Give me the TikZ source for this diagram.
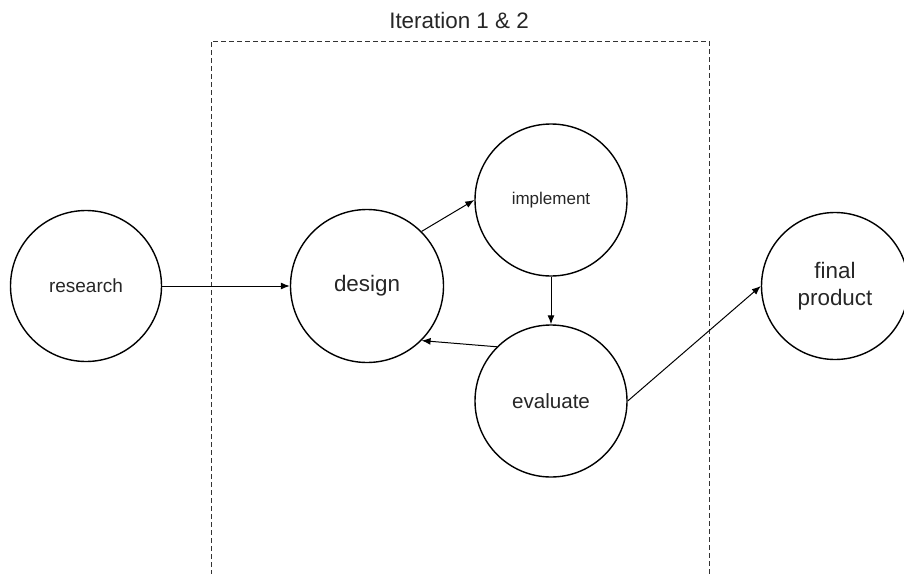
\documentclass[tikz,border=0pt]{standalone}
\usepackage{fontspec}
\setmainfont{Liberation Sans}
\usetikzlibrary{arrows.meta}

\tikzset{
  phase/.style={circle,draw,line width=0.7pt,minimum size=76pt,inner sep=0pt,align=center,text=black!85},
  flow/.style={-{Latex[length=4.5pt,width=3.5pt]},line width=0.5pt},
  frame/.style={dash pattern=on 2.5pt off 1.5pt,line width=0.5pt,black!80}
}

\begin{document}
\begin{tikzpicture}[x=0.5pt,y=-0.5pt]
        \useasboundingbox (0,0) rectangle (904,573);
        %\draw[help lines] (0,0) grid[step=50] (904,573);
        % iteration frame, open at the bottom
        \coordinate (frameBL) at (211,575);
        \coordinate (frameTR) at (709,41);
        \coordinate (frameBR) at (709,575);
        \draw[frame] (frameBL) |- (frameTR) -- (frameBR);
        \node[text=black!85,font=\fontsize{11.2}{13}\selectfont] (iterlabel) at (459,20) {Iteration 1 \& 2};

        \node[phase,minimum size=75.5pt,font=\fontsize{9.5}{11}\selectfont] (research) at (86,286) {research};
        \node[phase,minimum size=76.5pt,font=\fontsize{11.2}{13}\selectfont] (design) at (367,286) {design};
        \node[phase,font=\fontsize{8.5}{10}\selectfont] (implement) at (551,200) {implement};
        \node[phase,font=\fontsize{10.3}{12}\selectfont] (evaluate) at (551,401) {evaluate};
        \node[phase,minimum size=73.5pt,font=\fontsize{11.2}{13.5}\selectfont] (final) at (835,286) {final\\product};

        \draw[flow] (research) -- (design);
        \draw[flow] (design.45) -- (implement.west);
        \draw[flow] (implement) -- (evaluate);
        \draw[flow] (evaluate.135) -- (design.-45);
        \draw[flow] (evaluate.east) -- (final.west);
    \end{tikzpicture}
\end{document}
